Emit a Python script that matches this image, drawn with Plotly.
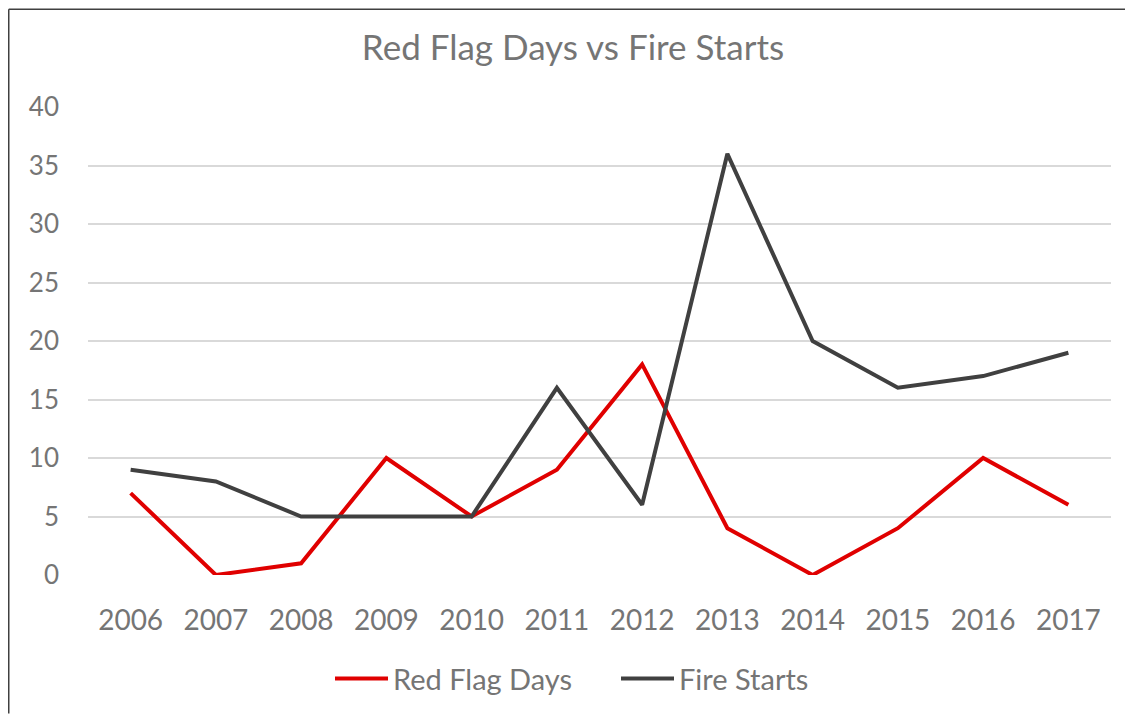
import plotly.graph_objects as go

years = ["2006", "2007", "2008", "2009", "2010", "2011", "2012", "2013", "2014", "2015", "2016", "2017"]
red_flag_days = [7, 0, 1, 10, 5, 9, 18, 4, 0, 4, 10, 6]
fire_starts = [9, 8, 5, 5, 5, 16, 6, 36, 20, 16, 17, 19]
y_ticks = [0, 5, 10, 15, 20, 25, 30, 35, 40]

FONT = "Lato, 'Open Sans', sans-serif"
GRAY = "#757575"

fig = go.Figure()
fig.add_trace(go.Scatter(x=years, y=red_flag_days, mode="lines", name="Red Flag Days",
                         line=dict(color="#E00000", width=4)))
fig.add_trace(go.Scatter(x=years, y=fire_starts, mode="lines", name="Fire Starts",
                         line=dict(color="#404040", width=4)))

OFF = 8  # page body margin
W, H = 1133 - 2 * OFF, 724 - 2 * OFF
L, T = 88 - OFF, 107 - OFF
R = W - (1111 - OFF)
B = H - (577 - OFF)
pw, ph = W - L - R, H - T - B

bx0 = (-L + 0.75) / pw
by1 = 1 + (T - 0.75) / ph
x_right = (W - L) / pw
y_bottom = -B / ph

fig.update_layout(
    width=W, height=H,
    margin=dict(l=L, r=R, t=T, b=B),
    paper_bgcolor="white", plot_bgcolor="white",
    font=dict(family=FONT, color=GRAY),
    title=dict(text="Red Flag Days vs Fire Starts", x=(573 - OFF) / W, xanchor="center",
               y=1 - (48 - OFF) / H, yanchor="middle", font=dict(size=35, color=GRAY, family=FONT)),
    xaxis=dict(type="category", range=[-0.5, 11.5], showgrid=False, zeroline=False,
               showline=False, ticks="", tickfont=dict(size=28, color=GRAY),
               ticklabelstandoff=26),
    yaxis=dict(range=[0, 40], tickvals=y_ticks, showgrid=True, gridcolor="#D9D9D9",
               gridwidth=1.5, zeroline=False, showline=False, ticks="",
               tickfont=dict(size=26, color=GRAY), ticklabelstandoff=28),
    legend=dict(orientation="h", x=(330 - 88) / pw, xanchor="left",
                y=(577 - 681) / ph, yanchor="middle", font=dict(size=29, color=GRAY),
                itemwidth=53, entrywidth=218, tracegroupgap=0),
    showlegend=True,
    shapes=[
        dict(type="line", xref="paper", yref="paper", x0=bx0, x1=bx0, y0=y_bottom, y1=by1,
             line=dict(color="#404040", width=1.5), layer="below"),
        dict(type="line", xref="paper", yref="paper", x0=bx0, x1=x_right, y0=by1, y1=by1,
             line=dict(color="#404040", width=1.5), layer="below"),
    ],
)

fig.write_html("out.html")
